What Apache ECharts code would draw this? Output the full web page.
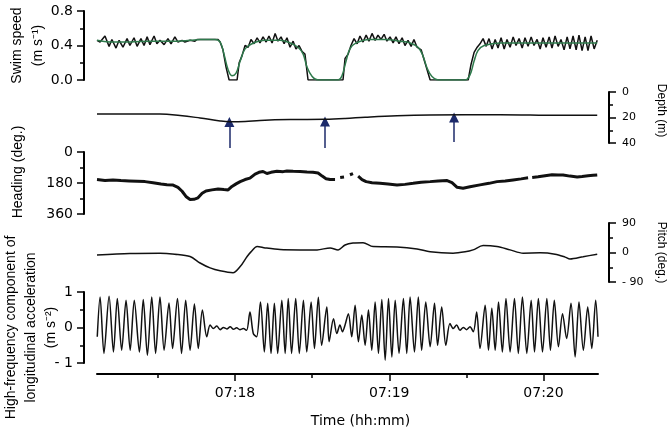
<!DOCTYPE html>
<html>
<head>
<meta charset="utf-8">
<script src="https://cdn.jsdelivr.net/npm/echarts@6/dist/echarts.min.js"></script>
<style>
  html, body { margin: 0; padding: 0; background: #fff; }
  #main { width: 669px; height: 433px; }
</style>
</head>
<body>
<div id="main"></div>
<script>
// time in seconds after 07:17:00
var timeTicks = [60, 120, 180];
var timeLabels = ['07:18', '07:19', '07:20'];
var halfTicks = [30, 90, 150];

// swim speed, raw (black) and smoothed (green), m/s
var speedRaw = [[6.3,0.46],[7.5,0.44],[9.4,0.51],[11.0,0.39],[12.1,0.47],[13.7,0.37],[14.9,0.46],[16.4,0.38],[18.0,0.48],[19.1,0.40],[20.7,0.49],[21.9,0.39],[23.4,0.48],[24.6,0.40],[25.8,0.50],[26.9,0.41],[28.5,0.51],[29.6,0.42],[30.8,0.46],[32.4,0.41],[33.9,0.48],[35.1,0.42],[36.6,0.50],[37.8,0.44],[39.4,0.46],[40.5,0.44],[42.5,0.46],[44.4,0.45],[45.2,0.47],[53.4,0.47],[54.2,0.44],[55.3,0.35],[56.5,0.15],[57.7,0.0],[60.8,0.0],[61.6,0.20],[62.7,0.28],[63.9,0.40],[65.1,0.38],[66.2,0.47],[67.4,0.42],[68.6,0.49],[69.7,0.43],[70.9,0.50],[72.1,0.44],[73.2,0.51],[74.4,0.43],[75.6,0.54],[76.7,0.45],[77.9,0.50],[79.1,0.42],[80.2,0.49],[81.4,0.38],[82.6,0.45],[83.7,0.36],[84.9,0.40],[86.1,0.33],[87.2,0.30],[88.4,0.0],[102.0,0.0],[102.8,0.25],[104.0,0.30],[105.1,0.40],[106.3,0.48],[107.5,0.42],[108.6,0.51],[109.8,0.44],[111.0,0.52],[112.1,0.45],[113.3,0.54],[114.5,0.46],[115.6,0.52],[116.8,0.47],[118.0,0.53],[119.1,0.45],[120.3,0.50],[121.5,0.43],[122.6,0.50],[123.8,0.42],[125.0,0.49],[126.1,0.40],[127.3,0.46],[128.5,0.39],[129.6,0.47],[130.8,0.38],[132.4,0.35],[133.9,0.20],[135.9,0.0],[150.7,0.0],[151.8,0.18],[153.0,0.32],[154.2,0.38],[155.3,0.42],[156.5,0.48],[157.7,0.39],[158.8,0.48],[160.0,0.36],[161.2,0.47],[162.3,0.37],[163.5,0.49],[164.7,0.36],[165.8,0.47],[167.0,0.38],[168.2,0.50],[169.3,0.40],[170.5,0.48],[171.7,0.37],[172.8,0.49],[174.0,0.39],[175.2,0.50],[176.3,0.40],[177.5,0.47],[178.7,0.36],[179.8,0.49],[181.0,0.38],[182.2,0.50],[183.3,0.37],[184.5,0.51],[185.7,0.39],[186.8,0.47],[188.0,0.35],[189.2,0.50],[190.3,0.36],[191.5,0.51],[192.7,0.35],[193.8,0.52],[195.0,0.34],[196.2,0.50],[197.3,0.34],[198.5,0.51],[199.7,0.36],[200.9,0.46]];
var speedSmooth = [[6.3,0.46],[11.4,0.44],[19.1,0.44],[26.9,0.45],[34.7,0.45],[42.5,0.46],[46.4,0.47],[52.2,0.47],[54.2,0.44],[55.7,0.30],[57.3,0.12],[58.8,0.05],[60.4,0.08],[62.0,0.22],[63.9,0.36],[66.6,0.42],[71.7,0.46],[77.5,0.46],[81.4,0.43],[84.5,0.38],[86.5,0.30],[88.0,0.15],[90.0,0.04],[92.3,0.0],[100.1,0.0],[101.6,0.05],[103.2,0.22],[104.7,0.36],[107.1,0.43],[112.5,0.47],[118.4,0.47],[124.2,0.45],[128.1,0.43],[131.2,0.38],[133.1,0.28],[134.7,0.14],[136.6,0.04],[139.0,0.0],[149.5,0.0],[151.4,0.06],[153.0,0.22],[154.5,0.34],[156.9,0.40],[163.1,0.43],[174.8,0.43],[186.5,0.43],[200.9,0.43]];

// depth (m)
var depth = [[6.3,17.2],[30.8,17.2],[38.6,18.4],[46.4,20.4],[54.2,22.7],[58.0,23.3],[63.9,23.1],[69.7,22.3],[81.4,21.6],[95.0,21.4],[102.8,20.8],[110.6,19.8],[123.0,18.6],[135.9,18.0],[163.1,17.8],[186.5,18.3],[200.9,18.3]];
// arrows under the depth trace: time, tip depth, tail depth
var arrowTimes = [57.8, 95.0, 145.2];
var arrowTips = [23.6, 23.1, 20.0];
var arrowTails = [43.9, 43.9, 39.2];

// heading (deg.), null = gap
var heading = [[6.3,160],[9.4,165],[12.5,162],[15.6,166],[18.8,168],[21.9,170],[25.0,172],[28.1,178],[31.2,186],[33.5,190],[35.9,192],[37.8,205],[39.4,228],[40.9,258],[42.5,276],[44.0,275],[45.6,266],[47.2,240],[48.7,226],[51.0,220],[53.4,215],[55.7,218],[57.3,220],[58.8,200],[60.4,185],[62.0,172],[63.9,160],[65.8,152],[67.8,128],[69.3,118],[70.9,113],[72.4,125],[74.0,118],[76.3,112],[78.7,114],[80.2,110],[82.6,112],[85.3,113],[88.0,116],[90.3,118],[92.3,122],[93.9,140],[95.4,155],[97.0,160],[98.9,160],[99.9,null],[100.9,148],[102.4,145],[103.5,null],[104.7,132],[105.9,125],[106.9,null],[107.9,140],[109.4,160],[111.0,172],[113.3,178],[116.4,182],[119.5,186],[123.0,191],[126.1,188],[129.3,182],[132.4,176],[135.9,172],[139.0,168],[142.5,166],[144.4,178],[146.4,205],[148.7,211],[151.4,202],[155.3,191],[158.8,182],[161.9,172],[165.1,168],[168.2,162],[171.3,156],[174.0,150],[174.8,null],[175.6,148],[177.9,144],[180.6,138],[183.3,132],[185.7,134],[187.6,133],[190.3,140],[193.1,145],[195.0,142],[197.3,138],[199.3,135],[200.9,133]];

// pitch (deg.)
var pitch = [[6.3,-8],[19.1,-3],[30.8,-2],[36.6,-5],[42.5,-12],[46.4,-32],[50.3,-47],[54.2,-56],[59.2,-62],[62.0,-43],[64.7,-12],[66.2,2],[68.6,18],[71.7,14],[77.5,9],[85.3,8],[91.9,8],[97.0,14],[100.1,8],[102.8,23],[105.9,29],[109.8,30],[113.7,18],[123.0,17],[130.8,11],[135.9,2],[144.8,-2],[149.5,2],[152.6,8],[156.5,21],[161.9,18],[167.0,8],[172.1,-2],[178.7,-1],[184.5,-5],[188.4,-14],[190.3,-20],[195.4,-13],[200.9,-5]];

// high-frequency longitudinal acceleration (m s-2)
var accel = [[6.4,-0.26],[7.5,0.86],[9.0,-0.73],[11.0,0.88],[12.7,-0.69],[14.2,0.82],[15.9,-0.64],[17.6,0.77],[19.2,-0.64],[20.8,0.77],[22.8,-0.69],[24.3,0.79],[25.9,-0.78],[27.6,0.86],[29.1,-0.73],[30.8,0.86],[32.4,-0.64],[34.3,0.69],[35.7,-0.59],[37.6,0.82],[39.2,-0.73],[40.8,0.77],[42.5,-0.64],[44.2,0.66],[45.7,-0.59],[47.3,0.49],[49.0,-0.26],[50.3,0.07],[51.6,-0.03],[52.9,0.04],[54.2,-0.06],[55.5,0.0],[56.8,-0.04],[58.1,0.02],[59.4,-0.05],[60.6,-0.01],[61.9,-0.06],[63.2,-0.03],[64.5,-0.08],[65.8,0.44],[67.1,-0.17],[68.4,-0.26],[69.9,0.72],
  [71.4,-0.69],[72.7,0.68],[74.0,-0.73],[75.3,0.68],[76.6,-0.73],[78.2,0.77],[79.5,-0.73],[80.7,0.82],[82.0,-0.73],[83.6,0.82],[85.0,-0.73],[86.6,0.77],[87.9,-0.69],[89.6,0.72],[90.9,-0.59],[92.4,0.85],[93.7,-0.50],[95.7,0.58],[96.6,-0.40],[98.3,0.25],[99.6,-0.17],[100.8,0.07],[101.8,-0.12],[102.8,0.07],[104.1,0.39],[105.4,-0.26],[106.7,0.63],[108.0,-0.40],[109.3,0.35],[110.6,-0.50],[111.9,0.49],[113.2,-0.64],[114.5,0.72],[115.8,-0.73],[117.1,0.79],[118.4,-0.92],[119.7,0.82],[121.0,-0.83],[122.3,0.77],[123.8,-0.73],[125.5,0.82],[126.8,-0.73],[128.1,0.86],[129.8,-0.69],[131.3,0.86],[132.6,-0.64],[134.2,0.72],
  [135.9,-0.54],[137.6,0.68],[138.8,-0.50],[140.4,0.58],[142.0,-0.50],[143.6,0.11],[144.9,-0.03],[146.2,0.07],[147.5,-0.08],[148.8,0.0],[150.1,-0.06],[151.4,0.02],[152.7,-0.12],[154.0,0.44],[155.3,-0.59],[157.3,0.63],[158.6,-0.64],[159.9,0.54],[161.2,-0.64],[162.5,0.72],[164.0,-0.69],[165.4,0.82],[167.0,-0.69],[168.7,0.82],[170.2,-0.73],[171.8,0.86],[173.5,-0.73],[175.2,0.77],[176.5,-0.69],[178.0,0.82],[179.6,-0.69],[181.3,0.82],[182.7,-0.64],[184.2,0.77],[185.8,-0.54],[187.4,0.39],[189.0,-0.31],[190.7,0.68],[192.3,-0.83],[193.8,0.72],[195.5,-0.64],[197.2,0.58],[198.8,-0.59],[200.3,0.77],[201.2,-0.26]];

var T0 = 6.3, T1 = 201.2;
var numFont = 'DejaVu Sans';
var nameFont = 'Liberation Sans';
var ink = '#000';

function minus(v) {
    return v < 0 ? '- ' + Math.abs(v) : String(v);
}

// hidden x axis for the upper panels
function hiddenX(g) {
    return {gridIndex: g, type: 'value', min: T0, max: T1, show: false};
}

// y axis with outward ticks and one minor tick between labels
function yAx(g, side, min, max, step, inverse, fmt, small) {
    return {
        gridIndex: g, type: 'value', position: side, offset: side === 'left' ? 13 : 11,
        min: min, max: max, interval: step, inverse: inverse,
        nameLocation: 'middle', nameMoveOverlap: false,
        nameRotate: side === 'left' ? 90 : -90,
        axisLine: {show: true, onZero: false, lineStyle: {color: ink, width: 2}},
        axisTick: {show: true, length: 7, lineStyle: {color: ink, width: 1.5}},
        minorTick: {show: true, splitNumber: 2, length: 4, lineStyle: {color: ink, width: 1.5}},
        splitLine: {show: false},
        axisLabel: {
            color: ink, fontFamily: numFont, fontSize: small ? 11 : 14,
            margin: side === 'left' ? 11 : 13, formatter: fmt
        }
    };
}

var yAxes = [
    yAx(0, 'left', 0, 0.8, 0.4, false, function (v) { return v.toFixed(1); }),
    yAx(1, 'right', 0, 40, 20, true, minus, true),
    yAx(2, 'left', 0, 360, 180, true, minus),
    yAx(3, 'right', -90, 90, 90, false, minus, true),
    yAx(4, 'left', -1, 1, 1, false, minus)
];

// axis titles
yAxes[0].name = 'Swim speed\n(m s\u207B\u00B9)';
yAxes[0].nameGap = 35;
yAxes[0].nameTextStyle = {fontFamily: nameFont, fontSize: 14, color: ink, lineHeight: 21};
yAxes[1].name = 'Depth (m)';
yAxes[1].nameGap = 46;
yAxes[1].nameTextStyle = {fontFamily: nameFont, fontSize: 12, color: ink, padding: [0, 14, 0, 0]};
yAxes[2].name = 'Heading (deg.)';
yAxes[2].nameGap = 59;
yAxes[2].nameTextStyle = {fontFamily: nameFont, fontSize: 14, color: ink, padding: [0, 0, 0, 22]};
yAxes[3].name = 'Pitch (deg.)';
yAxes[3].nameGap = 46;
yAxes[3].nameTextStyle = {fontFamily: nameFont, fontSize: 12, color: ink};
yAxes[4].name = 'High-frequency component of\nlongitudinal acceleration\n(m s\u207B\u00B2)';
yAxes[4].nameGap = 23;
yAxes[4].nameTextStyle = {fontFamily: nameFont, fontSize: 14, color: ink, lineHeight: 20};
// hidden depth scale that reaches below the panel, for the arrows
yAxes.push({gridIndex: 5, type: 'value', min: 0, max: 50, inverse: true, show: false});

function panel(top, height) {
    return {left: 97, right: 71, top: top, height: height, containLabel: false, outerBoundsMode: 'none'};
}

var chart = echarts.init(document.getElementById('main'), null, {renderer: 'canvas'});

var option = {
    backgroundColor: '#fff',
    animation: false,
    grid: [
        panel(11, 69),
        panel(92, 51),
        panel(152, 62),
        panel(223, 59),
        panel(292, 71),
        panel(92, 63.75)
    ],
    xAxis: [
        hiddenX(0), hiddenX(1), hiddenX(2), hiddenX(3),
        {
            gridIndex: 4, type: 'value', position: 'bottom', min: T0, max: T1, offset: 11,
            axisLine: {onZero: false, lineStyle: {color: ink, width: 2}},
            axisTick: {customValues: timeTicks, length: 7, lineStyle: {color: ink, width: 1.5}},
            axisLabel: {
                customValues: timeTicks, color: ink, fontFamily: numFont, fontSize: 14, margin: 12,
                formatter: function (v) { return timeLabels[timeTicks.indexOf(v)]; }
            },
            splitLine: {show: false},
            name: 'Time (hh:mm)', nameLocation: 'middle', nameGap: 40, nameMoveOverlap: false,
            nameTextStyle: {fontFamily: numFont, fontSize: 14, color: ink, padding: [0, 0, 0, 26]}
        },
        {
            gridIndex: 4, type: 'value', position: 'bottom', min: T0, max: T1, offset: 11,
            axisLine: {show: false, onZero: false},
            axisTick: {customValues: halfTicks, length: 4, lineStyle: {color: ink, width: 1.5}},
            axisLabel: {show: false},
            splitLine: {show: false}
        },
        hiddenX(5)
    ],
    yAxis: yAxes,
    series: [
        {
            name: 'speed', type: 'line', xAxisIndex: 0, yAxisIndex: 0, data: speedRaw,
            showSymbol: false, lineStyle: {color: '#111', width: 1.5}
        },
        {
            name: 'speed smoothed', type: 'line', xAxisIndex: 0, yAxisIndex: 0, data: speedSmooth,
            showSymbol: false, smooth: 0.4, lineStyle: {color: '#2e7a4c', width: 1.5}
        },
        {
            name: 'depth', type: 'line', xAxisIndex: 1, yAxisIndex: 1, data: depth,
            showSymbol: false, smooth: 0.4, lineStyle: {color: '#111', width: 1.5}
        },
        {
            name: 'arrows', type: 'lines', coordinateSystem: 'cartesian2d', xAxisIndex: 6, yAxisIndex: 5,
            symbol: ['none', 'triangle'], symbolSize: [8, 10], silent: true,
            lineStyle: {color: '#1c2a6a', width: 1.5, opacity: 1, curveness: 0},
            data: arrowTimes.map(function (t, i) {
                return {coords: [[t, arrowTails[i]], [t, arrowTips[i]]]};
            })
        },
        {
            name: 'heading', type: 'line', xAxisIndex: 2, yAxisIndex: 2, data: heading,
            showSymbol: false, connectNulls: false, lineStyle: {color: '#111', width: 3}
        },
        {
            name: 'pitch', type: 'line', xAxisIndex: 3, yAxisIndex: 3, data: pitch,
            showSymbol: false, smooth: 0.3, lineStyle: {color: '#111', width: 1.5}
        },
        {
            name: 'acceleration', type: 'line', xAxisIndex: 4, yAxisIndex: 4, data: accel,
            showSymbol: false, smooth: 0.3, lineStyle: {color: '#111', width: 1.5}
        }
    ]
};

chart.setOption(option);
window.onresize = chart.resize;
</script>
</body>
</html>
